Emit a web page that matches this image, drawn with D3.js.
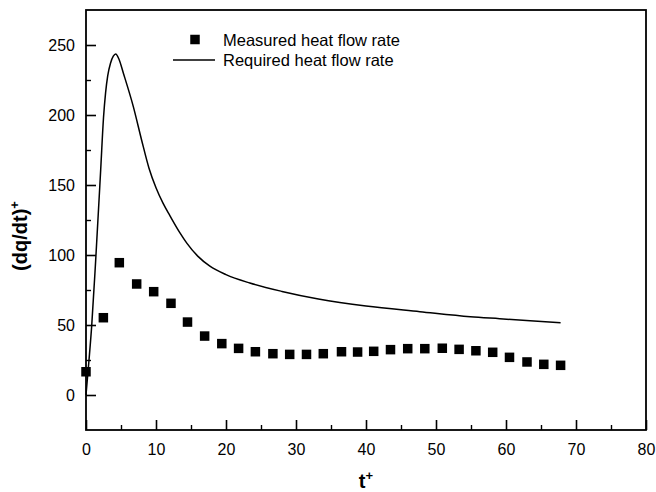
<!DOCTYPE html>
<html><head><meta charset="utf-8">
<script src="https://cdn.jsdelivr.net/npm/d3@7"></script>
<style>
body{margin:0;background:#fff;}
svg{display:block;font-family:"Liberation Sans",Arial,sans-serif;}
</style></head>
<body><svg id="c" width="656" height="492"></svg>
<script>
// Measured heat flow rate (squares)
const measuredT = [0,2.48,4.76,7.24,9.67,12.14,14.5,16.95,19.4,21.8,24.2,26.7,29.1,31.5,33.9,36.5,38.8,41.1,43.5,45.96,48.4,50.9,53.3,55.7,58.1,60.5,63.0,65.4,67.8];
const measuredV = [16.6,55.2,94.5,79.3,73.8,65.5,52.1,42.1,36.7,33.3,30.9,29.5,29,29,29.5,30.9,30.7,31.2,32.4,33.1,33.1,33.4,32.6,31.6,30.5,26.9,23.6,21.9,21.2];
// Required heat flow rate (line)
const requiredT = [0,0.43,0.81,1.38,2.1,2.5,2.8,3.1,3.5,3.9,4.24,4.7,5.33,6.76,7.95,9.0,10.0,11.0,12.0,13.4,14.4,16.0,17.7,20.0,23.4,28,33.2,40,47.7,54.9,59.1,67.8];
const requiredV = [0,25,49,96,161,198,216,228,237,242,243.6,240,230,206,182,162,148,137,128,116,108.5,99,92,86,80,74,68.6,63.5,59.5,55.9,54.5,51.6];
const xTicks = [0,10,20,30,40,50,60,70,80];
const yTicks = [0,50,100,150,200,250];
const xMinor = [5,15,25,35,45,55,65,75];
const yMinor = [25,75,125,175,225];
const legendLabels = ["Measured heat flow rate","Required heat flow rate"];

const svg = d3.select("#c");
const L=86, R=646, T=10, B=430;
const x = d3.scaleLinear().domain([0,80]).range([L,R]);
const y = d3.scaleLinear().domain([-25,275]).range([B,T]);

// frame
svg.append("rect").attr("x",L).attr("y",T).attr("width",R-L).attr("height",B-T)
  .attr("fill","none").attr("stroke","#000").attr("stroke-width",1.8);

// x axis
const xAxis = d3.axisBottom(x).tickValues(xTicks).tickSize(-10).tickPadding(14).tickFormat(d3.format("d"));
const gx = svg.append("g").attr("transform",`translate(0,${B})`).call(xAxis);
gx.select(".domain").remove();
gx.selectAll("line").attr("stroke-width",1.6);
gx.selectAll("text").attr("font-size",16).attr("fill","#000").attr("dy","0.71em");
const gxm = svg.append("g").attr("transform",`translate(0,${B})`)
  .call(d3.axisBottom(x).tickValues(xMinor).tickSize(-5).tickFormat(""));
gxm.select(".domain").remove();
gxm.selectAll("line").attr("stroke-width",1.4);

// y axis
const yAxis = d3.axisLeft(y).tickValues(yTicks).tickSize(-10).tickPadding(11);
const gy = svg.append("g").attr("transform",`translate(${L},0)`).call(yAxis);
gy.select(".domain").remove();
gy.selectAll("line").attr("stroke-width",1.6);
gy.selectAll("text").attr("font-size",16).attr("fill","#000");
const gym = svg.append("g").attr("transform",`translate(${L},0)`)
  .call(d3.axisLeft(y).tickValues(yMinor).tickSize(-5).tickFormat(""));
gym.select(".domain").remove();
gym.selectAll("line").attr("stroke-width",1.4);

// required line
const line = d3.line().x(d=>x(d[0])).y(d=>y(d[1])).curve(d3.curveMonotoneX);
svg.append("path").datum(requiredT.map((t,i)=>[t,requiredV[i]]))
  .attr("d",line).attr("fill","none").attr("stroke","#000").attr("stroke-width",1.5);

// measured squares
const s = 9.5;
svg.append("g").selectAll("rect").data(measuredT.map((t,i)=>[t,measuredV[i]])).join("rect")
  .attr("x",d=>x(d[0])-s/2).attr("y",d=>y(d[1])-s/2).attr("width",s).attr("height",s).attr("fill","#000");

// legend
svg.append("rect").attr("x",195-s/2).attr("y",39.5-s/2).attr("width",s).attr("height",s).attr("fill","#000");
svg.append("line").attr("x1",173).attr("x2",215).attr("y1",60).attr("y2",60).attr("stroke","#000").attr("stroke-width",1.3);
svg.append("text").attr("x",223).attr("y",45.5).attr("font-size",16.5).text(legendLabels[0]);
svg.append("text").attr("x",223).attr("y",66).attr("font-size",16.5).text(legendLabels[1]);

// axis titles
const xt = svg.append("text").attr("x",366).attr("y",488).attr("text-anchor","middle").attr("font-size",20).attr("font-weight","bold");
xt.append("tspan").text("t");
xt.append("tspan").attr("dy",-8).attr("font-size",13).text("+");
const yt = svg.append("text").attr("transform","translate(27,236) rotate(-90)").attr("text-anchor","middle").attr("font-size",20).attr("font-weight","bold");
yt.append("tspan").text("(dq/dt)");
yt.append("tspan").attr("dy",-8).attr("font-size",13).text("+");
</script></body></html>
